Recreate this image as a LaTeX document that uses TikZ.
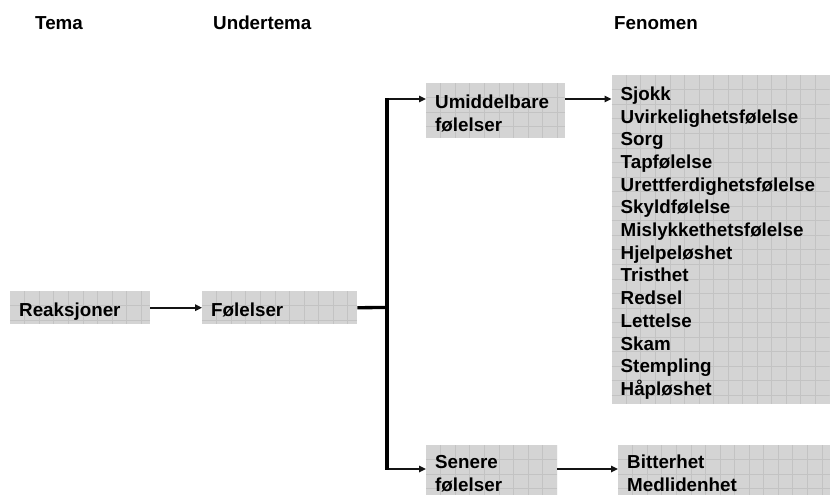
\documentclass[tikz,border=0pt]{standalone}
\usepackage{fontspec}
\setmainfont{Liberation Sans}
\usetikzlibrary{arrows.meta}
\definecolor{boxfill}{RGB}{212,212,212}
\definecolor{gridc}{RGB}{195,195,195}
\definecolor{linec}{RGB}{20,20,20}
\tikzset{
  txt/.style={font=\bfseries\fontsize{18.8pt}{22.7pt}\selectfont, text=black},
  gbox/.style={txt, fill=boxfill, draw=none, anchor=north west, inner xsep=9pt, inner ysep=0pt,
    align=left, text height=25.2pt,
    path picture={\foreach \k in {1,...,23}{
      \draw[gridc, line width=0.75pt] ([xshift=\k*14.55pt]path picture bounding box.north west) -- ([xshift=\k*14.55pt]path picture bounding box.south west);
      \draw[gridc, line width=0.75pt] ([yshift=-\k*14.55pt]path picture bounding box.north west) -- ([yshift=-\k*14.55pt]path picture bounding box.north east);}}},
  hdr/.style={txt, anchor=base west, inner sep=0pt},
  conn/.style={draw=linec, line width=1.6pt, -{Triangle[length=7pt,width=6.5pt]}},
  thickline/.style={draw=black, line width=3.3pt},
}
\begin{document}
\begin{tikzpicture}[x=1pt, y=-1pt]
\clip (0,0) rectangle (831,495);
\fill[white] (0,0) rectangle (831,495);
% headers
\node[hdr] (h1) at (35,30) {Tema};
\node[hdr] (h2) at (213,30) {Undertema};
\node[hdr] (h3) at (614,30) {Fenomen};
% boxes
\node[gbox, text width=122pt, text depth=7.8pt] (reak) at (10,291) {Reaksjoner};
\node[gbox, text width=137pt, text depth=7.8pt] (fol) at (202,291) {Følelser};
\node[gbox, text width=121pt, text depth=29.8pt] (umid) at (426,83) {Umiddelbare\\følelser};
\node[gbox, text width=200pt, text depth=303.8pt] (phen) at (611.5,75) {Sjokk\\Uvirkelighetsfølelse\\Sorg\\Tapfølelse\\Urettferdighetsfølelse\\Skyldfølelse\\Mislykkethetsfølelse\\Hjelpeløshet\\Tristhet\\Redsel\\Lettelse\\Skam\\Stempling\\Håpløshet};
\node[gbox, text width=113pt, text height=23.3pt, text depth=36.7pt] (sen) at (426,445) {Senere\\følelser};
\node[gbox, text width=194pt, text height=23.3pt, text depth=36.7pt] (bit) at (618,445) {Bitterhet\\Medlidenhet};
% connector points
\coordinate (top) at (387,99);
\coordinate (bot) at (387,469);
\coordinate (mid) at (387,307.5);
% connectors
\draw[conn] (reak.east) -- (fol.west);
\draw[thickline] (fol.east) -- (mid);
\draw[conn] (top) -- (umid.west |- top);
\draw[conn] (bot) -- (sen.west |- bot);
\draw[thickline] ([yshift=0.8pt]top) -- ([yshift=-0.8pt]bot);
\draw[conn] (umid.east |- top) -- (phen.west |- top);
\draw[conn] (sen.east |- bot) -- (bit.west |- bot);
\end{tikzpicture}
\end{document}
